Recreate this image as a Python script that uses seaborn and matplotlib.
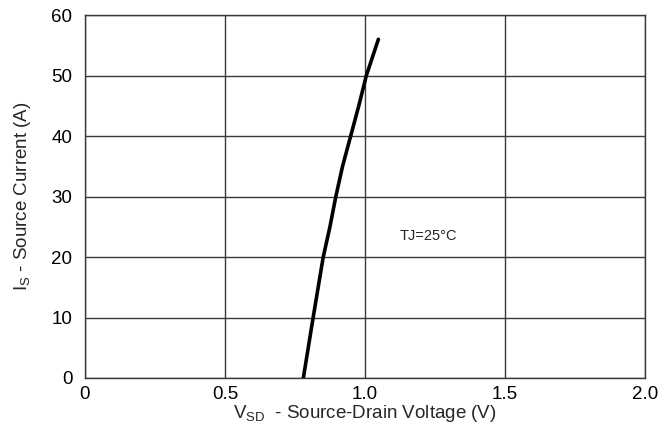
import numpy as np
import pandas as pd
import matplotlib
matplotlib.use("Agg")
import matplotlib.pyplot as plt
import seaborn as sns

# curve (Vsd in V, Is in A)
vsd = [0.78, 0.815, 0.851, 0.875, 0.896, 0.920, 0.949, 0.978, 1.005, 1.048]
i_s = [0, 10, 20, 25, 30, 35, 40, 45, 50, 56]

x_ticks = [0, 0.5, 1.0, 1.5, 2.0]
x_tick_labels = ["0", "0.5", "1.0", "1.5", "2.0"]
y_ticks = [0, 10, 20, 30, 40, 50, 60]

sns.set_style("white")
plt.rcParams["font.family"] = ["Liberation Sans", "DejaVu Sans"]
plt.rcParams["mathtext.fontset"] = "custom"
plt.rcParams["mathtext.rm"] = "Liberation Sans"
plt.rcParams["mathtext.it"] = "Liberation Sans"

df = pd.DataFrame({"vsd": vsd, "is": i_s})

fig, ax = plt.subplots(figsize=(6.69, 4.32), dpi=100)
fig.subplots_adjust(left=0.127, right=0.964, top=0.965, bottom=0.125)

sns.lineplot(data=df, x="vsd", y="is", sort=False, color="black", linewidth=2.6, ax=ax)

ax.set_xlim(0, 2.0)
ax.set_ylim(0, 60)
ax.set_xticks(x_ticks)
ax.set_xticklabels(x_tick_labels)
ax.set_yticks(y_ticks)
ax.grid(True, color="#3a3a3a", linewidth=1.0)
for s in ax.spines.values():
    s.set_color("#3a3a3a")
    s.set_linewidth(1.0)
ax.tick_params(axis="both", length=0, labelsize=13.5, colors="black")
ax.tick_params(axis="x", pad=6)
ax.tick_params(axis="y", pad=9)

ax.set_xlabel(r"V$_{\mathrm{SD}}$  - Source-Drain Voltage (V)", fontsize=13.5, labelpad=0)
ax.set_ylabel(r"I$_{\mathrm{S}}$ - Source Current (A)", fontsize=13.5, labelpad=13)

ax.text(1.225, 23.5, "TJ=25°C", fontsize=10.5, ha="center", va="center")

plt.savefig("out.png", dpi=100)
